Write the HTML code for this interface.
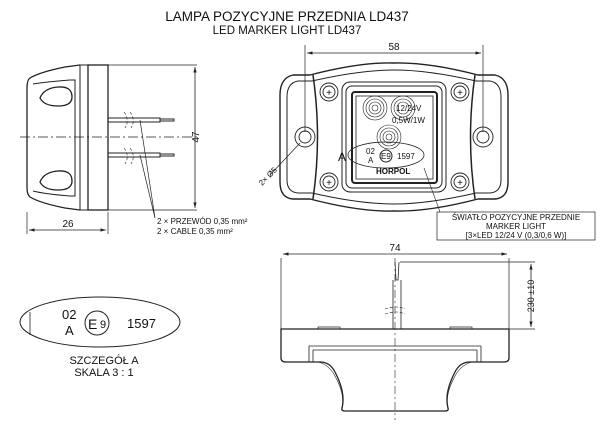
<!DOCTYPE html>
<html><head><style>body{margin:0;background:#fff}svg{display:block}text{font-family:"Liberation Sans",sans-serif;fill:#111}</style></head><body>
<svg width="600" height="432" viewBox="0 0 600 432" xmlns="http://www.w3.org/2000/svg" fill="none" stroke="#222" stroke-width="1">
<defs><marker id="a" viewBox="0 0 10 10" refX="10" refY="5" markerWidth="7" markerHeight="7" orient="auto-start-reverse"><path d="M0,2 L10,5 L0,8z" fill="#222" stroke="none"/></marker></defs>
<text x="287" y="21" font-size="13.5" text-anchor="middle" stroke="none">LAMPA POZYCYJNE PRZEDNIA LD437</text>
<text x="287" y="34" font-size="11.5" text-anchor="middle" stroke="none">LED MARKER LIGHT LD437</text>

<!-- side view -->
<path d="M80,65 L65,67 Q40,72 30,78 Q27,80 27,88 L27,187 Q27,195 30,197 Q40,203 65,208 L80,210" stroke-width="1.3"/>
<path d="M33,84 Q45,82 70,80 L75,80 L75,196 L70,196 Q45,194 33,191"/>
<path d="M80,65 L88,65 L88,72 M80,65 L80,210 M88,203 L88,210 L80,210" />
<rect x="88" y="65" width="20" height="145" stroke-width="1.3"/>
<path d="M40,98 Q44,88 58,87 Q72,86 72,97 Q72,106 58,106 Q44,106 40,98z" stroke-width="1.3"/>
<path d="M40,182 Q44,172 58,171 Q72,170 72,181 Q72,190 58,190 Q44,190 40,182z" stroke-width="1.3"/>
<path d="M20,137 L200,137" stroke-dasharray="10,3,2,3" stroke-width="0.7"/>
<path d="M108,65 L197,65 M108,210 L197,210" stroke-width="0.7"/>
<path d="M195,67 L195,208" marker-start="url(#a)" marker-end="url(#a)" stroke-width="0.8"/>
<text x="0" y="0" font-size="10" stroke="none" transform="translate(199,137) rotate(-90)" text-anchor="middle">47</text>
<path d="M108,118 L160,118 L160,122 L108,122 M160,119 L174,119 L174,121 L160,121"/>
<path d="M108,153 L160,153 L160,157 L108,157 M160,154 L174,154 L174,156 L160,156"/>
<path d="M124,112 Q130,120 125,128 M130,112 Q136,120 131,128 M124,148 Q130,156 125,164 M130,148 Q136,156 131,164" stroke-width="0.6" stroke-dasharray="3,2"/>
<path d="M140,120 L155,218 M140,155 L155,218" stroke-width="0.7"/>
<path d="M27,212 L27,234 M108,212 L108,234" stroke-width="0.7"/>
<path d="M29,230 L106,230" marker-start="url(#a)" marker-end="url(#a)" stroke-width="0.8"/>
<text x="68" y="227" font-size="10" text-anchor="middle" stroke="none">26</text>
<text x="157" y="224" font-size="8" stroke="none">2 × PRZEWÓD 0,35 mm²</text>
<text x="157" y="234" font-size="8" stroke="none">2 × CABLE 0,35 mm²</text>

<!-- front view -->
<path d="M305,45 L305,132 M483,45 L483,132" stroke-width="0.7"/>
<path d="M307,53 L481,53" marker-start="url(#a)" marker-end="url(#a)" stroke-width="0.8"/>
<text x="394" y="50" font-size="10" text-anchor="middle" stroke="none">58</text>
<path d="M310,75 Q360,62 394,63 Q428,62 478,75 L495,75 Q508,78 508,95 L508,182 Q508,198 495,199 L478,199 Q428,212 394,211 Q360,212 310,199 L293,199 Q280,198 280,182 L280,95 Q280,78 293,75z" stroke-width="1.4"/>
<path d="M312,81 Q360,70 394,70 Q428,70 476,81 L490,81 Q501,83 501,97 L501,180 Q501,192 490,193 L476,193 Q428,204 394,204 Q360,204 312,193 L298,193 Q287,192 287,180 L287,97 Q287,83 298,81z"/>
<path d="M313,75 Q322,137 313,199 M475,75 Q466,137 475,199" stroke-width="1.5"/>
<rect x="342" y="82" width="104" height="110" rx="8"/>
<rect x="346" y="86" width="96" height="102" rx="6"/>
<rect x="352" y="92" width="85" height="91" rx="3" stroke-width="2"/>
<rect x="356" y="96" width="77" height="83" stroke-width="0.8"/>
<g stroke-width="0.6">
<circle cx="375" cy="108" r="12"/><circle cx="375" cy="108" r="9"/><circle cx="375" cy="108" r="6"/><circle cx="375" cy="108" r="3"/>
<circle cx="403" cy="108" r="12"/><circle cx="403" cy="108" r="9"/><circle cx="403" cy="108" r="6"/>
<circle cx="389" cy="137" r="12"/><circle cx="389" cy="137" r="9"/><circle cx="389" cy="137" r="6"/><circle cx="389" cy="137" r="3"/>
</g>
<text x="396" y="111" font-size="8" stroke="none">12/24V</text>
<text x="392" y="123" font-size="8" stroke="none">0,5W/1W</text>
<ellipse cx="386" cy="155" rx="38" ry="13" stroke-width="0.8"/>
<text x="366" y="154" font-size="8" stroke="none">02</text>
<text x="368" y="163" font-size="8" stroke="none">A</text>
<circle cx="386" cy="156" r="6"/>
<text x="381" y="159" font-size="8" stroke="none">E9</text>
<text x="397" y="159" font-size="8" stroke="none">1597</text>
<text x="376" y="174" font-size="8" font-weight="bold" stroke="none">HORPOL</text>
<text x="338" y="161" font-size="12" stroke="none">A</text>
<g stroke-width="0.9">
<circle cx="305" cy="137" r="10"/><circle cx="305" cy="137" r="6"/>
<circle cx="483" cy="137" r="10"/><circle cx="483" cy="137" r="6"/>
<circle cx="329" cy="92" r="9"/><circle cx="329" cy="92" r="6"/>
<circle cx="329" cy="182" r="9"/><circle cx="329" cy="182" r="6"/>
<circle cx="460" cy="92" r="9"/><circle cx="460" cy="92" r="6"/>
<circle cx="460" cy="182" r="9"/><circle cx="460" cy="182" r="6"/>
</g>
<text x="329" y="96" font-size="10" text-anchor="middle" stroke="none">+</text>
<text x="329" y="186" font-size="10" text-anchor="middle" stroke="none">+</text>
<text x="460" y="96" font-size="10" text-anchor="middle" stroke="none">+</text>
<text x="460" y="186" font-size="10" text-anchor="middle" stroke="none">+</text>
<path d="M300,143 L270,175" stroke-width="0.7"/>
<text x="0" y="0" font-size="8" stroke="none" transform="translate(262,186) rotate(-45)">2× Ø5</text>
<path d="M424,168 L440,212" stroke-width="0.6"/>
<rect x="437" y="212" width="158" height="28" stroke-width="0.7"/>
<text x="516" y="220" font-size="8" text-anchor="middle" stroke="none">ŚWIATŁO POZYCYJNE PRZEDNIE</text>
<text x="516" y="229" font-size="8" text-anchor="middle" stroke="none">MARKER LIGHT</text>
<text x="516" y="238" font-size="8" text-anchor="middle" stroke="none">[3×LED 12/24 V (0,3/0,6 W)]</text>

<!-- bottom view -->
<path d="M281,258 L281,329 M509,258 L509,329" stroke-width="0.7"/>
<path d="M283,254 L507,254" marker-start="url(#a)" marker-end="url(#a)" stroke-width="0.8"/>
<text x="395" y="251" font-size="10" text-anchor="middle" stroke="none">74</text>
<path d="M400,262 L535,262 M509,329 L535,329" stroke-width="0.7"/>
<path d="M531,264 L531,327" marker-start="url(#a)" marker-end="url(#a)" stroke-width="0.8"/>
<text x="0" y="0" font-size="9" stroke="none" transform="translate(534,296) rotate(-90)" text-anchor="middle">230 ±10</text>
<path d="M395,262 L396,280 L398,280 L399,262 M393,280 L393,329 M401,280 L401,329" stroke-width="0.8"/>
<path d="M385,309 Q397,305 405,309 M385,314 Q397,310 405,314" stroke-width="0.6" stroke-dasharray="3,2"/>
<path d="M395,258 L395,420" stroke-dasharray="8,3,2,3" stroke-width="0.6"/>
<path d="M281,329 L509,329 L509,358 Q509,362 504,362 L470,362 Q460,362 455,372 Q444,393 448,408 Q449,411 445,411 L345,411 Q341,411 342,408 Q346,393 335,372 Q330,362 320,362 L286,362 Q281,362 281,358z" stroke-width="1.3"/>
<path d="M309,346 L481,346 M309,346 L309,362 M481,346 L481,362 M313,350 L477,350 M313,350 L313,362 M477,350 L477,362" stroke-width="0.8"/>
<path d="M318,362 Q330,365 336,378 Q345,395 342,408 M472,362 Q460,365 454,378 Q445,395 448,408" stroke-width="0.6"/>
<path d="M318,329 L318,327 L340,327 L340,329 M450,329 L450,327 L472,327 L472,329" stroke-width="0.7"/>

<!-- detail -->
<ellipse cx="100" cy="322" rx="80" ry="25" stroke-width="1"/>
<path d="M30,312 L30,335" stroke-width="0.8"/>
<text x="62" y="319" font-size="13" stroke="none" fill="#444">02</text>
<text x="65" y="335" font-size="13" stroke="none" fill="#444">A</text>
<circle cx="97" cy="323" r="12" stroke-width="1"/>
<text x="88" y="329" font-size="14" stroke="none" fill="#444">E</text>
<text x="100" y="328" font-size="11" stroke="none" fill="#444">9</text>
<text x="127" y="328" font-size="13" stroke="none" fill="#444">1597</text>
<text x="104" y="364" font-size="11" text-anchor="middle" stroke="none">SZCZEGÓŁ A</text>
<text x="104" y="376" font-size="11" text-anchor="middle" stroke="none">SKALA 3 : 1</text>
</svg>
</body></html>
